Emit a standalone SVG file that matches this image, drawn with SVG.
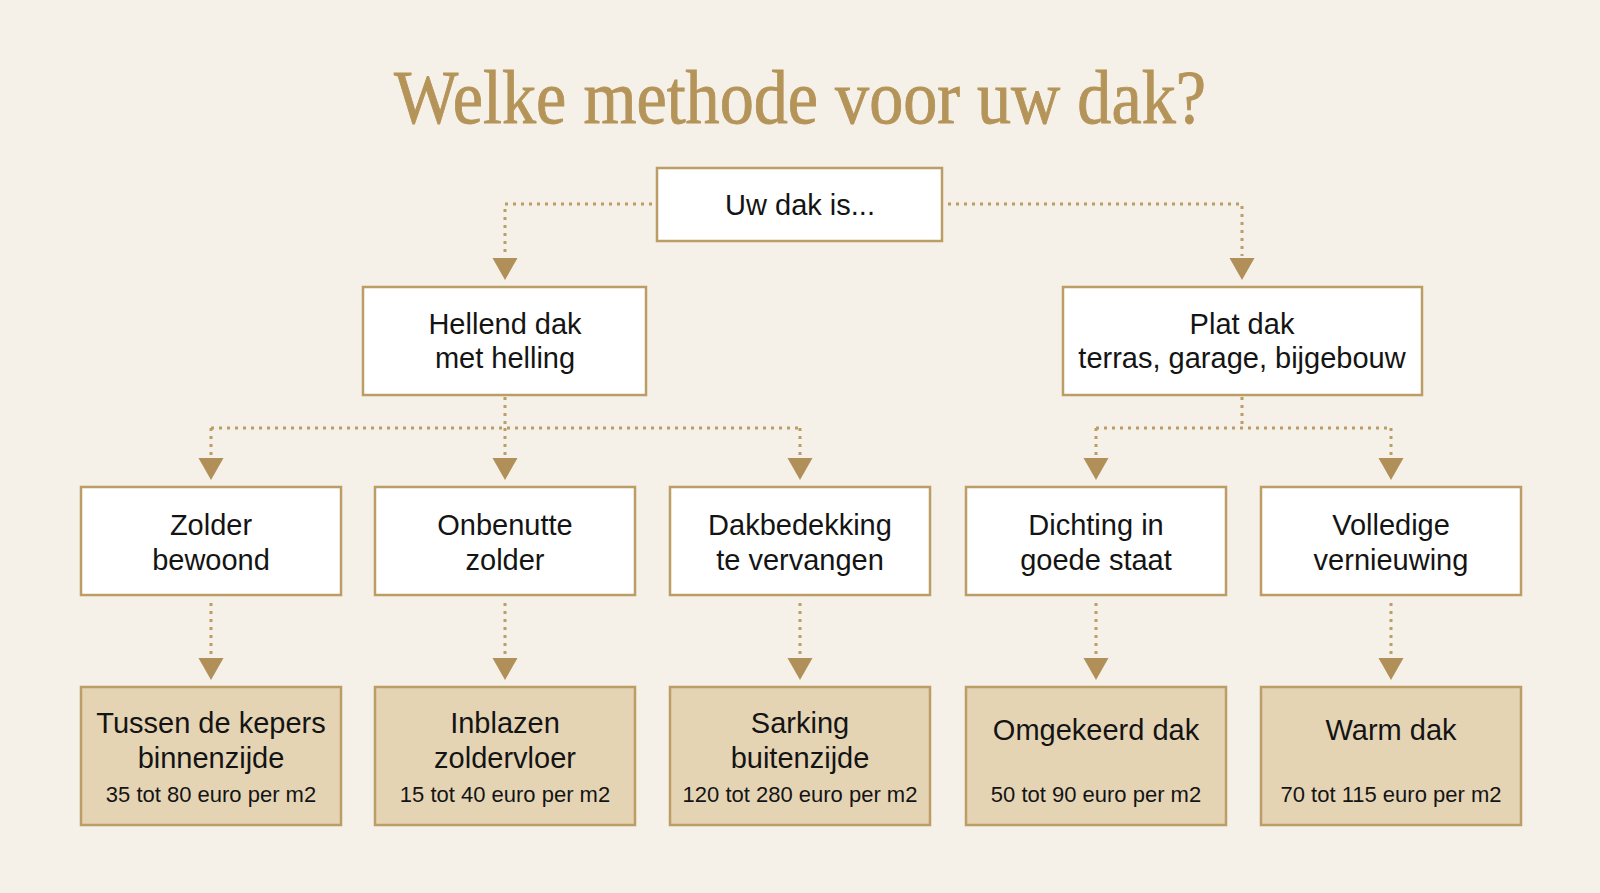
<svg xmlns="http://www.w3.org/2000/svg" width="1600" height="893" viewBox="0 0 1600 893">
<style>
.bg{fill:#F5F1E8}
.title{font-family:"Liberation Serif",serif;font-size:76px;fill:#B59459;stroke:#B59459;stroke-width:0.9;text-anchor:middle}
.box{fill:#FFFFFF;stroke:#BC9D66;stroke-width:2.5}
.res{fill:#E5D4B4;stroke:#BC9D66;stroke-width:2.5}
.t{font-family:"Liberation Sans",Arial,sans-serif;font-size:29px;fill:#141414;text-anchor:middle}
.p{font-family:"Liberation Sans",Arial,sans-serif;font-size:22px;fill:#141414;text-anchor:middle}
.dot{fill:none;stroke:#BC9D66;stroke-width:3;stroke-dasharray:3 5}
.ah{fill:#B08F58}
</style>
<defs>
<polygon id="arr" class="ah" points="-12.5,0 12.5,0 0,22"/>
</defs>
<rect class="bg" x="0" y="0" width="1600" height="893"/>
<text class="title" x="800" y="123" textLength="812" lengthAdjust="spacingAndGlyphs">Welke methode voor uw dak?</text>

<g id="connectors">
<path class="dot" d="M652 204 H505 V256"/>
<path class="dot" d="M948 204 H1242 V256"/>
<path class="dot" d="M505 397 V428 M211 428 H800 M211 428 V456 M505 428 V456 M800 428 V456"/>
<path class="dot" d="M1242 397 V428 M1096 428 H1391 M1096 428 V456 M1391 428 V456"/>
<path class="dot" d="M211 603 V656 M505 603 V656 M800 603 V656 M1096 603 V656 M1391 603 V656"/>
<use href="#arr" x="505" y="258"/>
<use href="#arr" x="1242" y="258"/>
<use href="#arr" x="211" y="458"/>
<use href="#arr" x="505" y="458"/>
<use href="#arr" x="800" y="458"/>
<use href="#arr" x="1096" y="458"/>
<use href="#arr" x="1391" y="458"/>
<use href="#arr" x="211" y="658"/>
<use href="#arr" x="505" y="658"/>
<use href="#arr" x="800" y="658"/>
<use href="#arr" x="1096" y="658"/>
<use href="#arr" x="1391" y="658"/>
</g>

<g id="n-root"><rect class="box" x="657" y="168" width="285" height="73"/><text class="t" x="800" y="215">Uw dak is...</text></g>
<g id="n-hellend"><rect class="box" x="363" y="287" width="283" height="108"/><text class="t" x="505" y="334">Hellend dak</text><text class="t" x="505" y="368">met helling</text></g>
<g id="n-plat"><rect class="box" x="1063" y="287" width="359" height="108"/><text class="t" x="1242" y="334">Plat dak</text><text class="t" x="1242" y="368">terras, garage, bijgebouw</text></g>

<g id="n-zolder"><rect class="box" x="81" y="487" width="260" height="108"/><text class="t" x="211" y="535">Zolder</text><text class="t" x="211" y="570">bewoond</text></g>
<g id="n-onbenutte"><rect class="box" x="375" y="487" width="260" height="108"/><text class="t" x="505" y="535">Onbenutte</text><text class="t" x="505" y="570">zolder</text></g>
<g id="n-dakbedekking"><rect class="box" x="670" y="487" width="260" height="108"/><text class="t" x="800" y="535">Dakbedekking</text><text class="t" x="800" y="570">te vervangen</text></g>
<g id="n-dichting"><rect class="box" x="966" y="487" width="260" height="108"/><text class="t" x="1096" y="535">Dichting in</text><text class="t" x="1096" y="570">goede staat</text></g>
<g id="n-volledige"><rect class="box" x="1261" y="487" width="260" height="108"/><text class="t" x="1391" y="535">Volledige</text><text class="t" x="1391" y="570">vernieuwing</text></g>

<g id="r-tussen"><rect class="res" x="81" y="687" width="260" height="138"/><text class="t" x="211" y="733">Tussen de kepers</text><text class="t" x="211" y="768">binnenzijde</text><text class="p" x="211" y="802">35 tot 80 euro per m2</text></g>
<g id="r-inblazen"><rect class="res" x="375" y="687" width="260" height="138"/><text class="t" x="505" y="733">Inblazen</text><text class="t" x="505" y="768">zoldervloer</text><text class="p" x="505" y="802">15 tot 40 euro per m2</text></g>
<g id="r-sarking"><rect class="res" x="670" y="687" width="260" height="138"/><text class="t" x="800" y="733">Sarking</text><text class="t" x="800" y="768">buitenzijde</text><text class="p" x="800" y="802">120 tot 280 euro per m2</text></g>
<g id="r-omgekeerd"><rect class="res" x="966" y="687" width="260" height="138"/><text class="t" x="1096" y="740">Omgekeerd dak</text><text class="p" x="1096" y="802">50 tot 90 euro per m2</text></g>
<g id="r-warm"><rect class="res" x="1261" y="687" width="260" height="138"/><text class="t" x="1391" y="740">Warm dak</text><text class="p" x="1391" y="802">70 tot 115 euro per m2</text></g>
</svg>
